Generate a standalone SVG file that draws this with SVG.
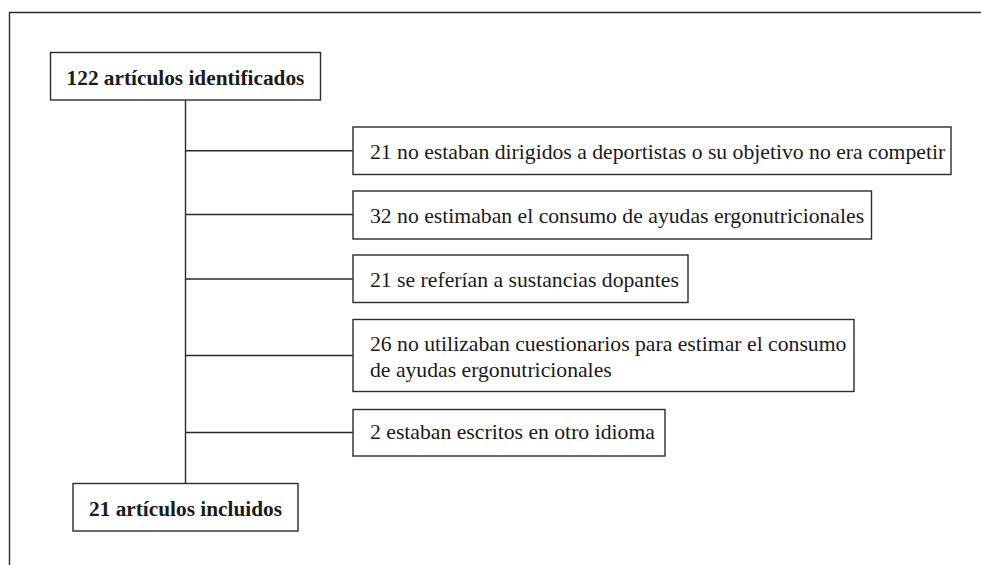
<svg xmlns="http://www.w3.org/2000/svg" width="981" height="565" viewBox="0 0 981 565">
<style>
.box{fill:#fff;stroke:#2b2b2b;stroke-width:1.4}
.ln{stroke:#2b2b2b;stroke-width:1.4;fill:none}
.t{font-family:"Liberation Serif","Times New Roman",serif;font-size:21.7px;fill:#1a1a1a}
.b{font-weight:bold;text-anchor:middle;font-size:21.3px}
</style>
<rect width="981" height="565" fill="#fff"/>
<path class="ln" d="M9.5,565 V12.5 H981" stroke="#555"/>
<g id="connectors">
<line class="ln" x1="185.5" y1="100" x2="185.5" y2="483"/>
<line class="ln" x1="185.5" y1="150.7" x2="353" y2="150.7"/>
<line class="ln" x1="185.5" y1="214.5" x2="353" y2="214.5"/>
<line class="ln" x1="185.5" y1="279" x2="353" y2="279"/>
<line class="ln" x1="185.5" y1="355.5" x2="353" y2="355.5"/>
<line class="ln" x1="185.5" y1="432.5" x2="353" y2="432.5"/>
</g>
<g id="n0"><rect class="box" x="50.5" y="52.5" width="270" height="47.5"/><text class="t b" x="185.5" y="85">122 artículos identificados</text></g>
<g id="n1"><rect class="box" x="353" y="127" width="598" height="47.5"/><text class="t" x="370" y="158.5">21 no estaban dirigidos a deportistas o su objetivo no era competir</text></g>
<g id="n2"><rect class="box" x="353" y="191" width="518.5" height="48"/><text class="t" x="370" y="222.5">32 no estimaban el consumo de ayudas ergonutricionales</text></g>
<g id="n3"><rect class="box" x="353" y="255" width="335" height="47.5"/><text class="t" x="370" y="286.5">21 se referían a sustancias dopantes</text></g>
<g id="n4"><rect class="box" x="353" y="319.5" width="501" height="72"/><text class="t" x="370" y="350.5">26 no utilizaban cuestionarios para estimar el consumo</text><text class="t" x="370" y="377">de ayudas ergonutricionales</text></g>
<g id="n5"><rect class="box" x="353" y="409.5" width="312" height="46.5"/><text class="t" x="370" y="439">2 estaban escritos en otro idioma</text></g>
<g id="n6"><rect class="box" x="73" y="483.5" width="225" height="47.5"/><text class="t b" x="185.5" y="516">21 artículos incluidos</text></g>
</svg>
